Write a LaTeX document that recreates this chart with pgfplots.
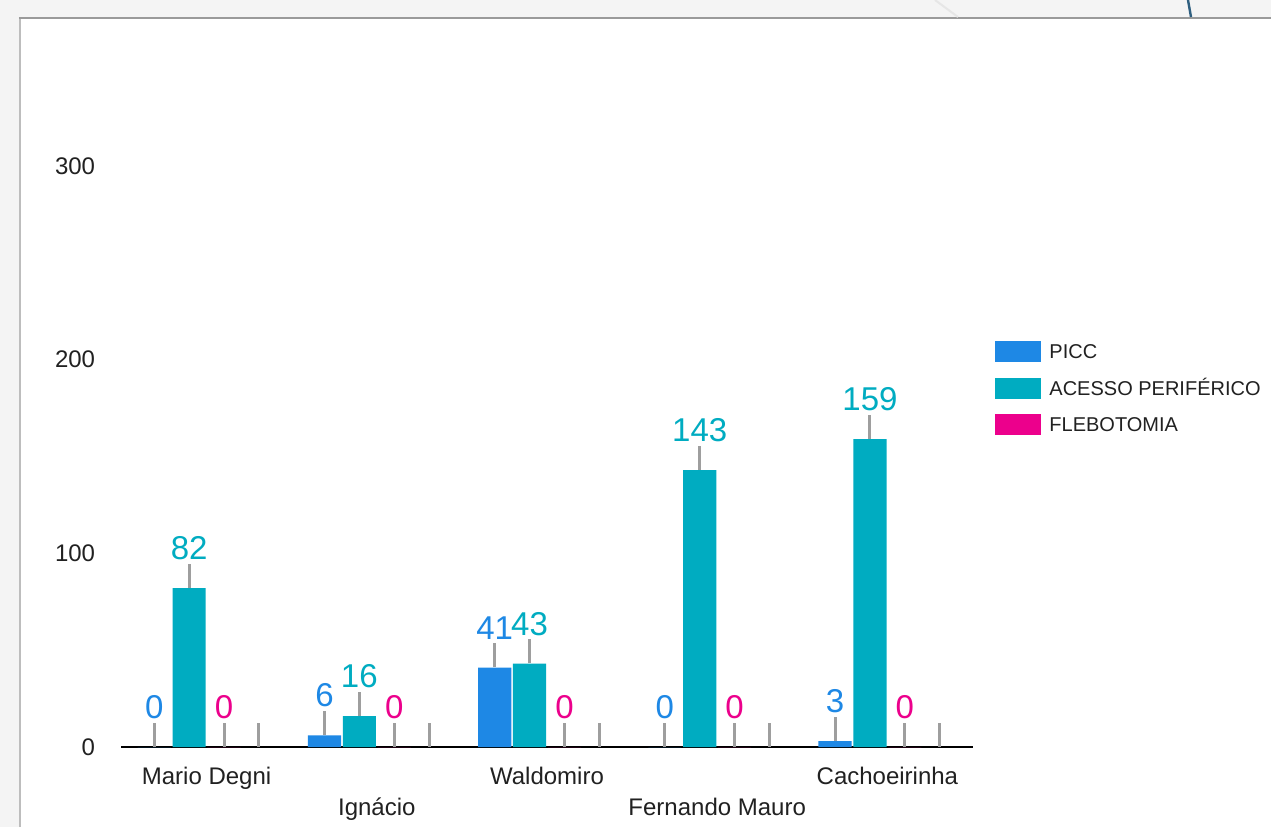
\documentclass[border=0pt]{standalone}
\usepackage{pgfplots}
\pgfplotsset{compat=1.18}
\usepackage{fontspec}
\setmainfont{Liberation Sans}

\definecolor{picc}{HTML}{1E88E5}
\definecolor{acesso}{HTML}{00ACC1}
\definecolor{flebo}{HTML}{EC008C}
\definecolor{leadgray}{HTML}{9E9E9E}
\definecolor{txt}{HTML}{212121}
\definecolor{outer}{HTML}{F4F4F4}
\definecolor{cardleft}{HTML}{BDBDBD}
\definecolor{cardtop}{HTML}{9A9A9A}
\definecolor{faint}{HTML}{E6E6E6}
\definecolor{darkblue}{HTML}{2F5F80}

\pgfdeclarelayer{background}
\pgfsetlayers{background,main}

% value label sitting on a short grey leader line
\newcommand{\lead}[2]{\vbox{\offinterlineskip\halign{\hfil##\hfil\cr
  \textcolor{#1}{#2}\cr\noalign{\vskip2pt}
  \textcolor{leadgray}{\rule{1.5pt}{12pt}}\cr}}}

\begin{document}
\begin{tikzpicture}
\begin{axis}[
    scale only axis, width=425.5pt, height=290.5pt,
    xmin=-0.5, xmax=4.5, ymin=0, ymax=300,
    clip=false,
    ybar, bar width=0.195,
    axis line style={draw=none},
    tick style={draw=none},
    /pgf/number format/assume math mode=true,
    font=\fontsize{12}{14}\selectfont,
    ytick={0,100,200,300},
    yticklabel style={text=txt, inner sep=0pt, anchor=east, xshift=-13pt},
    xtick={0,2,4},
    xticklabels={Mario Degni,Waldomiro,Cachoeirinha},
    xticklabel style={text=txt, inner sep=0pt, anchor=base, yshift=-14.3pt},
    extra x ticks={1,3},
    extra x tick labels={Ignácio,Fernando Mauro},
    extra x tick style={xticklabel style={yshift=-15.7pt}},
    every node near coord/.append style={anchor=south, inner sep=0pt,
        font=\fontsize{16.5}{18}\selectfont},
    legend image code/.code={\fill[#1] (0pt,-4pt) rectangle (23pt,6.5pt);},
    legend cell align=left,
    legend style={at={(1.0265,0.6988)}, anchor=north west, draw=none, fill=none,
        inner sep=0pt, row sep=6.5pt, column sep=4pt,
        font=\fontsize{10}{12}\selectfont, text=txt,
        nodes={inner sep=0pt, text height=7.5pt, text depth=3pt}},
]
\coordinate (O) at (axis cs:-0.5,0);
\draw[black, line width=1pt] (axis cs:-0.5,0) -- (axis cs:4.5,0);

\addplot[fill=picc, draw=none, bar shift=-0.3075,
    nodes near coords={\lead{picc}{\pgfmathprintnumber{\pgfplotspointmeta}}}]
    coordinates {(0,0) (1,6) (2,41) (3,0) (4,3)};
\addlegendentry{PICC}

\addplot[fill=acesso, draw=none, bar shift=-0.1025,
    nodes near coords={\lead{acesso}{\pgfmathprintnumber{\pgfplotspointmeta}}}]
    coordinates {(0,82) (1,16) (2,43) (3,143) (4,159)};
\addlegendentry{ACESSO PERIFÉRICO}

\addplot[fill=flebo, draw=none, bar shift=0.1025,
    nodes near coords={\lead{flebo}{\pgfmathprintnumber{\pgfplotspointmeta}}}]
    coordinates {(0,0) (1,0) (2,0) (3,0) (4,0)};
\addlegendentry{FLEBOTOMIA}

% fourth, unnamed series: only its leader lines show
\addplot[fill=none, draw=none, bar shift=0.3075, forget plot,
    nodes near coords={\textcolor{leadgray}{\rule{1.5pt}{12pt}}}]
    coordinates {(0,0) (1,0) (2,0) (3,0) (4,0)};
\end{axis}

% card background in reference pixels (y from bottom), behind the axis
\begin{scope}[x=0.5pt, y=0.5pt, shift={(O)}, shift={(-121.5,-80)}]
\begin{pgfonlayer}{background}
\fill[outer] (0,0) rectangle (1271,827);
\fill[white] (20,0) rectangle (1271,809);
\draw[cardleft, line width=1pt] (20,0) -- (20,809);
\draw[cardtop, line width=1pt] (19,809) -- (1271,809);
\draw[faint, line width=1pt] (935,827) -- (958,810);
\draw[darkblue, line width=1.2pt] (1188,827) -- (1191,810);
\end{pgfonlayer}
\pgfresetboundingbox
\path (0,0) rectangle (1271,827);
\end{scope}
\end{tikzpicture}
\end{document}
